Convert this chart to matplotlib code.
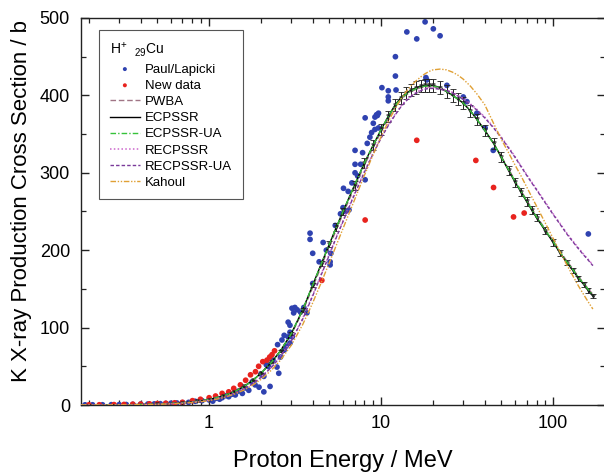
import numpy as np
import matplotlib
matplotlib.use('Agg')
import matplotlib.pyplot as plt
from matplotlib.ticker import LogLocator, NullFormatter, FixedLocator, MultipleLocator

plt.rcParams['font.family'] = ['Liberation Sans', 'DejaVu Sans']
plt.rcParams['mathtext.default'] = 'regular'

# Paul/Lapicki compilation (MeV, barn)
paul_E = [0.19, 0.21, 0.24, 0.27, 0.30, 0.33, 0.36, 0.40, 0.44, 0.48, 0.52, 0.56, 0.60, 0.65,
          0.70, 0.76, 0.83, 0.91, 1.00, 1.05, 1.09, 1.15, 1.19, 1.25, 1.30, 1.36, 1.42, 1.48,
          1.56, 1.62, 1.70, 1.78, 1.85, 1.95, 2.00, 2.08, 2.08, 2.15, 2.22, 2.26, 2.35, 2.48,
          2.54, 2.60, 2.50, 2.65, 2.73, 2.73, 2.80, 2.88, 2.88, 2.95, 2.95, 2.95, 3.04, 3.03,
          3.10, 3.15, 3.25, 3.40, 3.55, 3.70, 3.86, 3.86, 4.00, 4.00, 4.36, 4.60, 4.80, 5.05,
          5.05, 5.10, 5.41, 5.80, 6.00, 6.20, 6.50, 6.04, 6.43, 6.76, 7.05, 7.05, 7.05, 7.30,
          7.60, 7.80, 8.07, 8.07, 8.30, 8.60, 8.80, 9.00, 9.20, 9.20, 9.40, 9.50, 9.65, 9.65,
          10.1, 11.0, 11.0, 11.0, 12.1, 12.1, 12.2, 14.1, 16.1, 18.0, 18.2, 18.4, 20.1, 22.0,
          24.1, 30.0, 31.5, 36.0, 40.2, 44.8, 160]
paul_sigma = [0.2, 0.3, 0.3, 0.4, 0.5, 0.6, 0.8, 1.0, 1.2, 1.4, 1.7, 2.0, 2.3, 2.6,
              3.0, 3.4, 4.8, 5.6, 6.5, 5.0, 8.6, 7.5, 9.4, 12, 10.7, 14, 13, 18,
              15, 22, 19, 30, 26, 23, 40, 37, 17, 52, 49.5, 24, 58, 49,
              41, 62, 78, 84, 71, 90, 76, 88, 107, 80, 94, 103, 88, 125,
              119, 126, 123, 120, 126, 119, 214, 222, 196, 157, 185, 210, 200, 181,
              185, 196, 232, 247, 255, 250, 252, 280, 276, 287, 300, 311, 329, 296,
              311, 326, 291, 371, 338, 346, 352, 364, 356, 372, 375, 374, 377, 358,
              410, 406, 398, 393, 450, 425, 407, 482, 473, 495, 423, 420, 486, 477,
              413, 398, 392, 377, 358, 329, 221]

# New data
new_E = [0.20, 0.23, 0.28, 0.32, 0.36, 0.40, 0.45, 0.50, 0.56, 0.63, 0.70, 0.80, 0.89, 1.00,
         1.09, 1.19, 1.30, 1.39, 1.52, 1.63, 1.74, 1.86, 1.94, 2.05, 2.17, 2.25, 2.32, 2.40,
         4.52, 8.07, 16.1, 35.5, 45.0, 58.8, 67.8]
new_sigma = [0.2, 0.3, 0.5, 0.7, 1.0, 1.2, 1.5, 1.8, 2.2, 2.8, 3.5, 5.6, 7.4, 9.4,
             11.6, 15, 17, 21.5, 26, 32, 39, 43, 50, 56, 58, 62, 65, 70,
             161, 239, 342, 316, 281, 243, 248]

# theory curves on a common energy grid (MeV)
theory_E = [0.18, 0.25, 0.35, 0.5, 0.7, 0.85, 1.0, 1.2, 1.4, 1.6, 1.8, 2.0, 2.3, 2.6, 3.0,
            3.5, 4.0, 4.5, 5.0, 5.5, 6.0, 7.0, 8.0, 9.0, 10, 11, 12, 13, 14, 15, 16, 17,
            18, 19, 20, 22, 24, 26, 28, 30, 33, 36, 40, 45, 50, 55, 60, 65, 70, 75, 80,
            90, 100, 110, 120, 130, 140, 150, 160, 170]
ecpssr = [0.04, 0.12, 0.4, 1.1, 2.8, 4.6, 7, 11.5, 17, 24, 32, 41, 55, 70, 92,
          123, 155, 183, 208, 230, 250, 284, 313, 336, 356, 373, 387, 397, 403, 407, 410, 412,
          413, 413, 413, 410, 405, 400, 395, 390, 380, 369, 355, 338, 320, 303, 288, 275, 263, 252, 242,
          225, 210, 196, 184, 174, 164, 156, 148, 141]
ecpssr_ua = [0.04, 0.12, 0.4, 1.1, 2.9, 4.7, 7.1, 11.6, 17, 24, 32, 41, 55, 70, 92,
             123, 155, 183, 208, 230, 250, 284, 313, 336, 356, 373, 386, 396, 402, 406, 409, 411,
             412, 412, 412, 410, 405, 400, 395, 390, 380, 369, 355, 338, 320, 304, 289, 276, 264, 253, 243,
             226, 211, 197, 185, 175, 165, 157, 149, 142]
pwba = [0.05, 0.14, 0.45, 1.2, 3.0, 4.9, 7.4, 12, 17.5, 24.5, 32.5, 41.5, 55, 70, 91,
        121, 152, 180, 205, 227, 247, 281, 310, 333, 353, 370, 384, 394, 401, 405, 408, 410,
        411, 411, 411, 409, 405, 400, 395, 390, 380, 369, 355, 338, 321, 305, 290, 277, 265, 254, 244,
        227, 212, 198, 186, 176, 166, 158, 150, 143]
recpssr = [0.03, 0.1, 0.33, 0.95, 2.4, 4.0, 6.1, 10, 15, 21, 28, 36, 49, 63, 83,
           112, 142, 170, 195, 218, 238, 273, 302, 326, 346, 362, 375, 386, 394, 400, 404, 407,
           409, 410, 410, 409, 407, 404, 400, 396, 389, 382, 372, 359, 346, 333, 321, 309, 298, 288, 279,
           262, 247, 234, 222, 212, 203, 195, 188, 181]
recpssr_ua = [0.03, 0.1, 0.33, 0.95, 2.4, 4.0, 6.0, 9.9, 14.8, 20.8, 27.7, 35.6, 48.5, 62.5, 82.5,
              111, 141, 169, 194, 217, 237, 272, 301, 325, 345, 361, 374, 385, 393, 399, 403, 406,
              408, 409, 409, 408, 406, 403, 399, 395, 388, 381, 371, 358, 345, 332, 320, 308, 297, 287, 278,
              261, 246, 233, 221, 211, 202, 194, 187, 180]
kahoul = [0.03, 0.09, 0.3, 0.85, 2.2, 3.7, 5.6, 9.2, 14, 19.5, 26, 33, 45, 58, 77,
          104, 132, 159, 184, 207, 228, 265, 297, 324, 347, 366, 382, 395, 405, 413, 419, 424,
          428, 431, 433, 434, 433, 430, 426, 421, 412, 402, 388, 364, 343, 326, 310, 296, 282, 269, 257,
          235, 215, 197, 181, 167, 154, 143, 133, 124]
ecpssr_err_pct = 2.0

fig = plt.figure(figsize=(6.04, 4.72), dpi=100)
ax = fig.add_axes([81 / 604, 67 / 472, 524 / 604, 387 / 472])

ax.scatter(paul_E, paul_sigma, s=17, color='#2f42b0', edgecolors='none', zorder=2, label='Paul/Lapicki')
ax.scatter(new_E, new_sigma, s=17, color='#e8231e', edgecolors='none', zorder=3, label='New data')

ax.plot(theory_E, pwba, color='#a07585', ls=(0, (4, 2)), lw=1.0, zorder=4, label='PWBA')
ax.plot(theory_E, ecpssr, color='black', ls='-', lw=1.0, zorder=5, label='ECPSSR')
ecpssr_arr = np.array(ecpssr)
ax.errorbar(theory_E[3:], ecpssr[3:], yerr=ecpssr_arr[3:] * ecpssr_err_pct / 100,
            fmt='v', ms=2.5, mfc='none', mec='#202020', mew=0.6,
            ecolor='#202020', elinewidth=0.7, capsize=2.2, capthick=0.7, zorder=5)
ax.plot(theory_E, ecpssr_ua, color='#36c23a', ls=(0, (4, 1.5, 1, 1.5)), lw=1.0, zorder=6, label='ECPSSR-UA')
ax.plot(theory_E, recpssr, color='#cc66cc', ls=(0, (1, 1.5)), lw=1.1, zorder=6, label='RECPSSR')
ax.plot(theory_E, recpssr_ua, color='#7a3a9a', ls=(0, (2.5, 1.5)), lw=1.0, zorder=6, label='RECPSSR-UA')
ax.plot(theory_E, kahoul, color='#e0a035', ls=(0, (4, 1.2, 1, 1.2, 1, 1.2)), lw=1.0, zorder=6, label='Kahoul')

ax.set_xscale('log')
ax.set_xlim(0.18, 200)
ax.set_ylim(0, 500)
ax.xaxis.set_major_locator(FixedLocator([1, 10, 100]))
ax.xaxis.set_major_formatter(matplotlib.ticker.FixedFormatter(['1', '10', '100']))
ax.xaxis.set_minor_locator(LogLocator(base=10, subs=np.arange(2, 10), numticks=20))
ax.xaxis.set_minor_formatter(NullFormatter())
ax.yaxis.set_major_locator(MultipleLocator(100))
ax.yaxis.set_minor_locator(MultipleLocator(50))

ax.tick_params(which='both', direction='in', top=True, right=True, labelsize=13, color='#222222')
ax.tick_params(which='major', length=6, width=1.0)
ax.tick_params(which='minor', length=3.5, width=0.9)
ax.tick_params(axis='y', pad=8)
ax.tick_params(axis='x', pad=7)
for sp in ax.spines.values():
    sp.set_linewidth(1.0)
    sp.set_color('#222222')

ax.set_xlabel('Proton Energy / MeV', fontsize=17, labelpad=13)
ax.set_ylabel('K X-ray Production Cross Section / b', fontsize=16)
ax.yaxis.set_label_coords(-0.094, 0.527)

handles, labels = ax.get_legend_handles_labels()
leg = ax.legend(handles, labels, loc='upper left', bbox_to_anchor=(0.022, 0.985), fontsize=9.5,
                title=r'H$^{+}$  $_{29}$Cu', title_fontsize=10, alignment='left',
                frameon=True, fancybox=False, edgecolor='#555555', framealpha=1,
                handlelength=2.3, handletextpad=0.4, labelspacing=0.3, borderpad=0.8,
                markerscale=0.7)
leg.get_frame().set_linewidth(0.8)

fig.savefig('out.png', dpi=100)
